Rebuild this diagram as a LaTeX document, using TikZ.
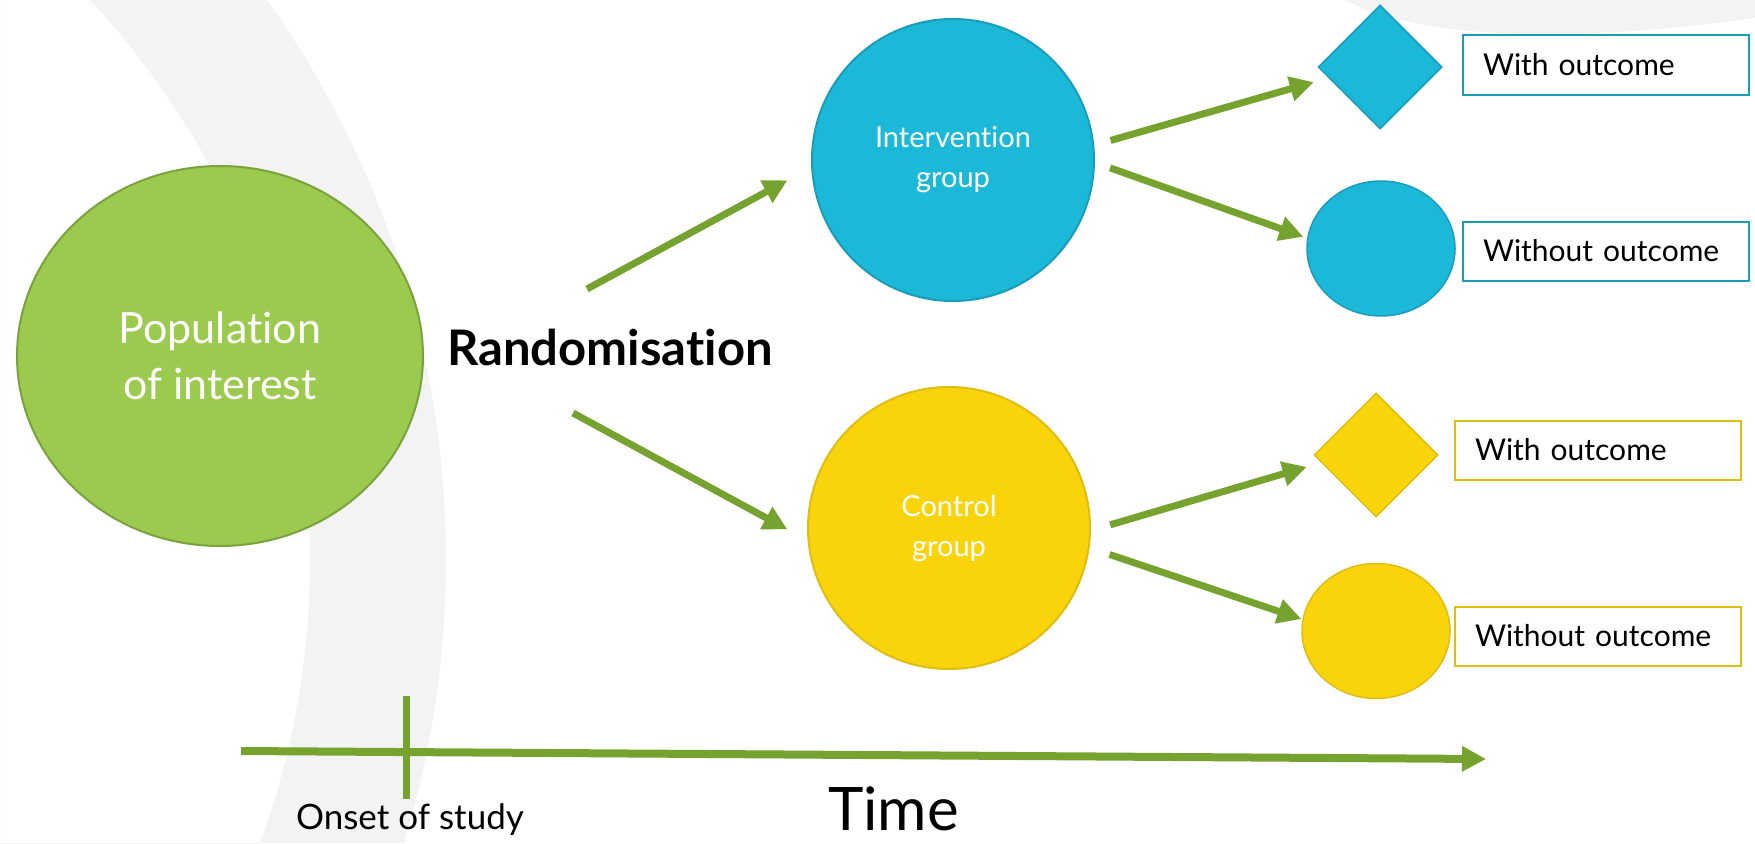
\documentclass[tikz,border=0pt]{standalone}
\usepackage{fontspec}
\setmainfont{Lato}[Ligatures=NoCommon]
\usetikzlibrary{arrows.meta,shapes.geometric}

\definecolor{popgreen}{HTML}{9BCA4E}
\definecolor{popedge}{HTML}{7BA23C}
\definecolor{arrowgreen}{HTML}{76A22F}
\definecolor{intblue}{HTML}{1BB8D8}
\definecolor{intedge}{HTML}{1A9DBB}
\definecolor{ctlyellow}{HTML}{FAD40A}
\definecolor{ctledge}{HTML}{DFBD12}
\definecolor{swoosh}{HTML}{F3F3F3}

\begin{document}
\begin{tikzpicture}[x=1pt,y=-1pt,>={Triangle[length=24pt,width=24pt]}]
        \tikzstyle{population}=[ellipse,minimum width=406pt,minimum height=380pt,inner sep=0pt,fill=popgreen,draw=popedge,line width=2pt,text=white,align=center,font=\fontsize{43}{56}\selectfont]
        \tikzstyle{group}=[circle,minimum size=282pt,inner sep=0pt,line width=2pt,text=white,align=center,font=\fontsize{29}{40}\selectfont]
        \tikzstyle{yes}=[diamond,minimum size=124pt,inner sep=0pt,line width=1.5pt]
        \tikzstyle{no}=[ellipse,minimum width=148pt,minimum height=135pt,inner sep=0pt,line width=1.5pt]
        \tikzstyle{outbox}=[rectangle,fill=white,line width=2pt,minimum width=286pt,minimum height=59pt,text width=246pt,inner xsep=20pt,align=left,font=\fontsize{30}{36}\selectfont]
        \tikzstyle{flow}=[->,draw=arrowgreen,line width=7pt]

        \useasboundingbox (0,0) rectangle (1755,843);

        % light swooshes behind everything
        \begin{scope}
          \clip (-519.5,560) circle[radius=965.5pt];
          \fill[swoosh,even odd rule] (0,0) rectangle (1755,843) (-512.7,560) circle[radius=822.7pt];
        \end{scope}
        \fill[swoosh] (1345,0) .. controls (1420,38) and (1560,45) .. (1755,18) -- (1755,0) -- cycle;

        \node[population]                    (pop)         at (220,356)    {Population\\of interest};
        \node[font=\fontsize{49}{54}\selectfont\bfseries,anchor=base]
                                             (rand)        at (610,365)    {Randomisation};
        \node[group,fill=intblue,draw=intedge]   (interv)  at (953,160)    {Intervention\\group};
        \node[group,fill=ctlyellow,draw=ctledge] (ctrl)    at (949,528)    {Control\\group};

        % outcomes
        \node[yes,fill=intblue,draw=intedge]     (int yes) at (1380,67)    {};
        \node[no,fill=intblue,draw=intedge]      (int no)  at (1381,248.5) {};
        \node[yes,fill=ctlyellow,draw=ctledge]   (ctl yes) at (1376,455)   {};
        \node[no,fill=ctlyellow,draw=ctledge]    (ctl no)  at (1376,631)   {};

        \node[outbox,draw=intedge] (int yes box) at (1606,65)  {With outcome};
        \node[outbox,draw=intedge] (int no box)  at (1606,251) {Without outcome};
        \node[outbox,draw=ctledge] (ctl yes box) at (1598,450) {With outcome};
        \node[outbox,draw=ctledge] (ctl no box)  at (1598,636) {Without outcome};

        \coordinate (split top)    at (587,289);
        \coordinate (split bottom) at (573,413);

        \draw[flow,shorten >=27pt] (split top) -- (interv.183);
        \draw[flow,shorten >=23pt] (split bottom) -- (ctrl.185);
        \draw[flow,shorten <=17pt,shorten >=15pt] (interv.6) -- (int yes.192);
        \draw[flow,shorten <=16pt,shorten >=4pt]  (interv.-1) -- (int no.172);
        \draw[flow,shorten <=20pt,shorten >=15pt] (ctrl.-1) -- (ctl yes.188);
        \draw[flow,shorten <=21pt,shorten >=1pt]  (ctrl.-8) -- (ctl no.171);

        % time axis
        \coordinate (time start) at (241,751);
        \coordinate (time end)   at (1486,759);
        \draw[flow,line width=8pt] (time start) -- (time end);
        \draw[arrowgreen,line width=7pt] (406,696) -- (406,799);

        \node[font=\fontsize{35}{40}\selectfont,anchor=base] (onset) at (410,829)   {Onset of study};
        \node[font=\fontsize{60}{66}\selectfont,anchor=base] (time)  at (893.5,830) {Time};
\end{tikzpicture}
\end{document}
